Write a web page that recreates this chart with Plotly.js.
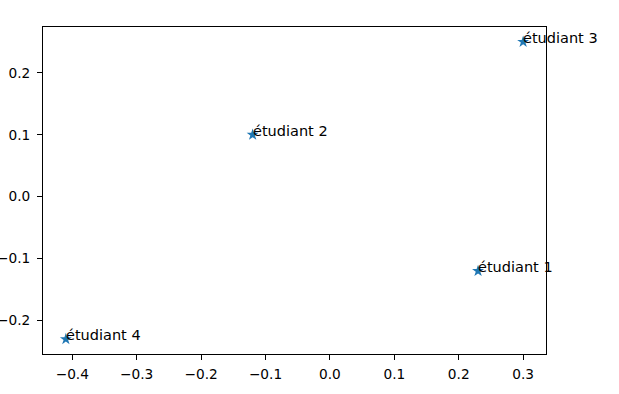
<!DOCTYPE html>
<html>
<head>
<meta charset="utf-8">
<script src="https://cdn.plot.ly/plotly-3.0.1.min.js"></script>
<style>html,body{margin:0;padding:0;background:#fff;}#chart{width:619px;height:394px;}</style>
</head>
<body>
<div id="chart"></div>
<script>
const labels = ["étudiant 1", "étudiant 2", "étudiant 3", "étudiant 4"];
const xValues = [0.23, -0.12, 0.30, -0.41];
const yValues = [-0.12, 0.10, 0.25, -0.23];
const xTicks = [-0.4, -0.3, -0.2, -0.1, 0.0, 0.1, 0.2, 0.3];
const yTicks = [-0.2, -0.1, 0.0, 0.1, 0.2];

const fontFamily = "DejaVu Sans, sans-serif";
const tickSize = 13.7;
const labelSize = 14.5;

const trace = {
  x: xValues,
  y: yValues,
  mode: "markers",
  type: "scatter",
  marker: {symbol: "star", size: 9, color: "#1f77b4"},
  hoverinfo: "none"
};

const annotations = labels.map((t, i) => ({
  x: xValues[i], y: yValues[i], xref: "x", yref: "y",
  text: t, showarrow: false, xanchor: "left", yanchor: "middle",
  xshift: -2, yshift: 4,
  font: {family: fontFamily, size: labelSize, color: "#000"}
}));

function pad(arr){ const mn=Math.min(...arr), mx=Math.max(...arr), d=(mx-mn)*0.05; return [mn-d, mx+d]; }

const axisCommon = {
  showgrid: false, zeroline: false, showline: true, mirror: true,
  linecolor: "#000", linewidth: 1, ticks: "outside", ticklen: 5, tickwidth: 1,
  tickcolor: "#000", tickformat: ".1f", tickmode: "array",
  tickfont: {family: fontFamily, size: tickSize, color: "#000"}, automargin: false
};

const layout = {
  width: 619, height: 394,
  margin: {l: 43, r: 73, t: 27, b: 40},
  paper_bgcolor: "#fff", plot_bgcolor: "#fff",
  showlegend: false,
  xaxis: Object.assign({}, axisCommon, {range: pad(xValues), tickvals: xTicks, ticklabelstandoff: 3}),
  yaxis: Object.assign({}, axisCommon, {range: pad(yValues), tickvals: yTicks, ticklabelstandoff: 4}),
  annotations: annotations
};

Plotly.newPlot("chart", [trace], layout, {displayModeBar: false, staticPlot: true});
</script>
</body>
</html>
